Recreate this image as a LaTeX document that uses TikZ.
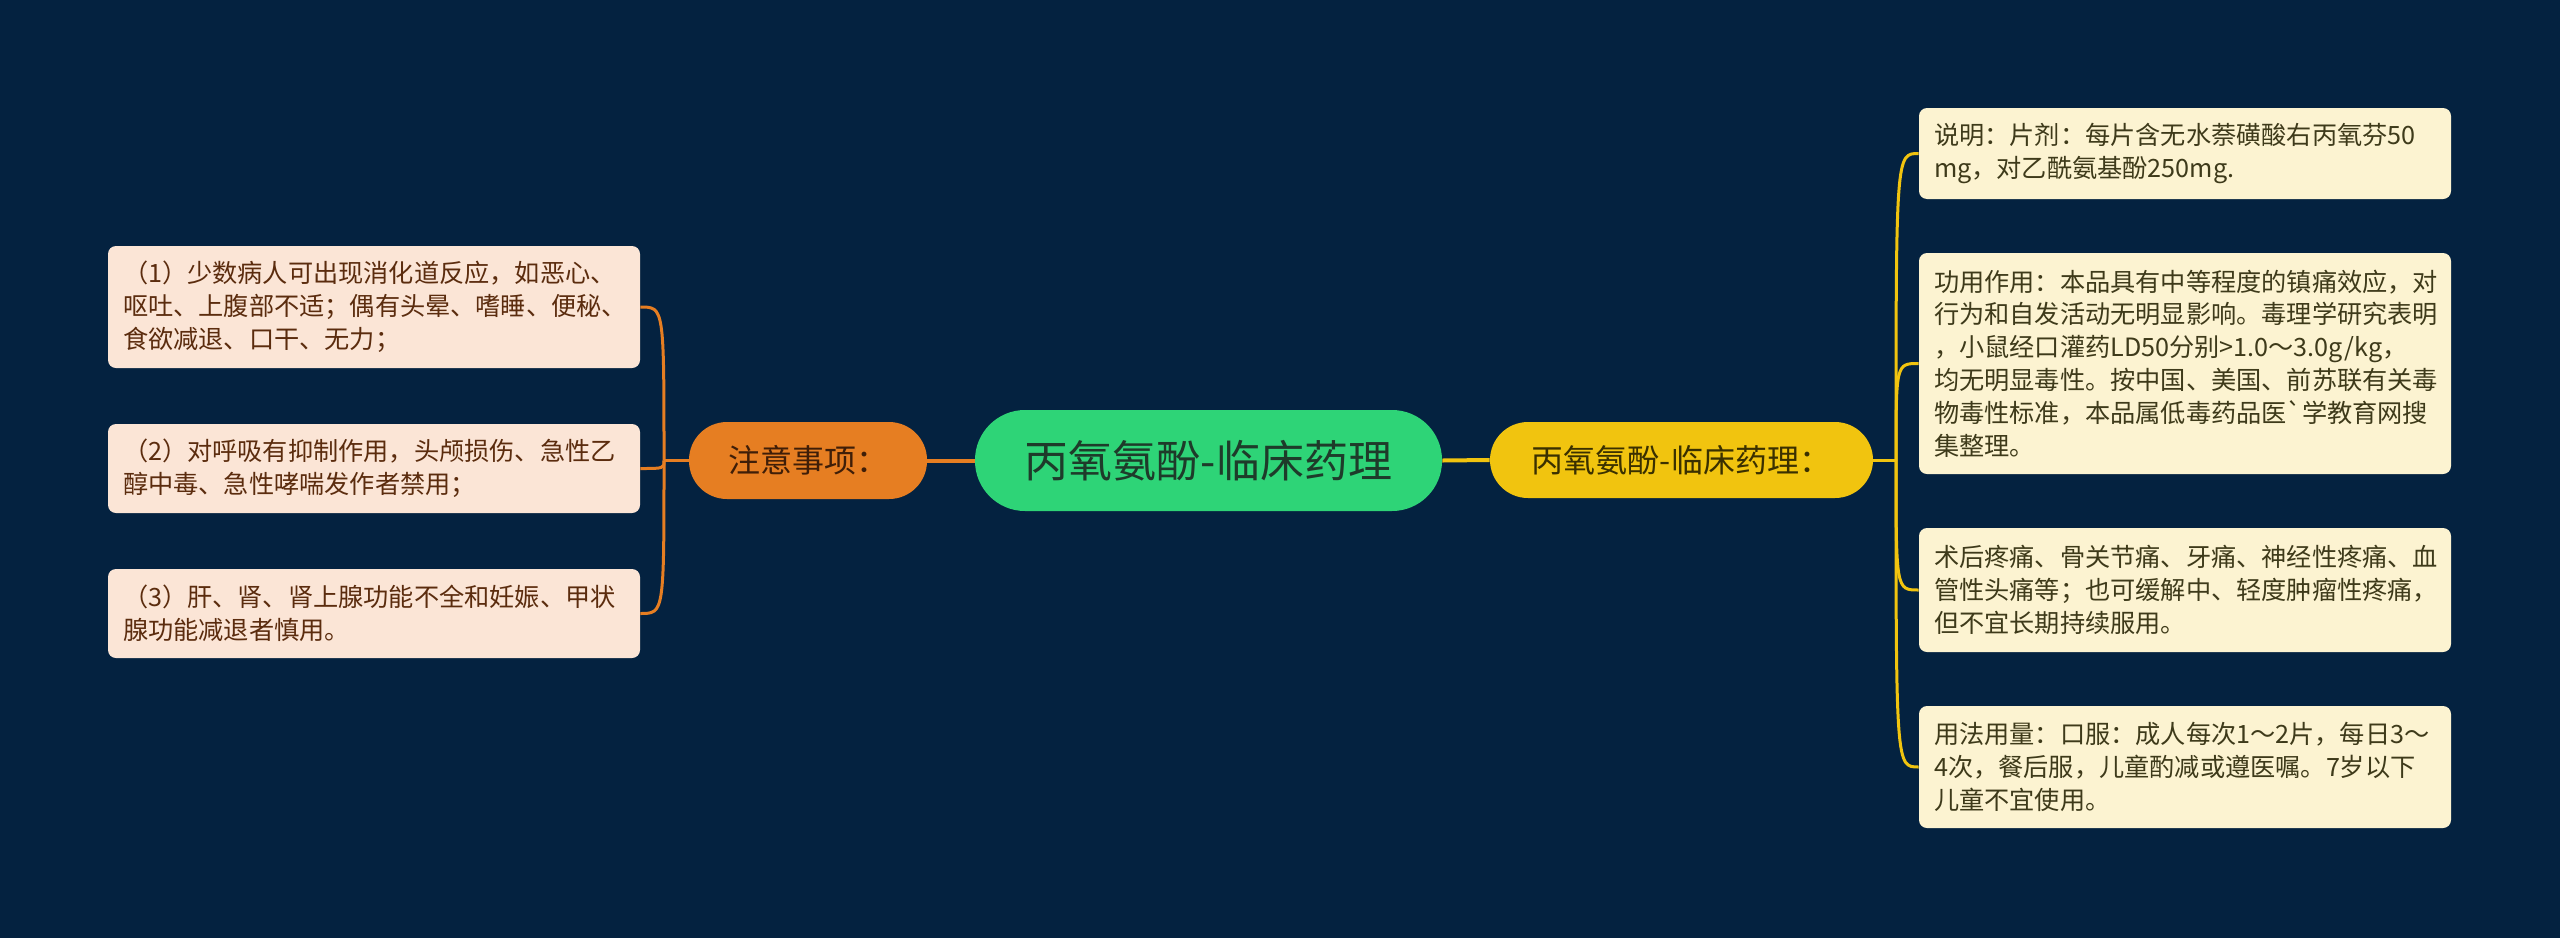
\documentclass[tikz,border=0pt]{standalone}
\usepackage{fontspec}
\usepackage{xcolor}
\usepackage{tikz}
\usetikzlibrary{positioning}
\newfontfamily\cjk{Noto Sans CJK SC}
\definecolor{bgnavy}{HTML}{042240}
\definecolor{rootgreen}{HTML}{2ED477}
\definecolor{roottext}{HTML}{1E3B2A}
\definecolor{careorange}{HTML}{E67E22}
\definecolor{caretext}{HTML}{3F1E08}
\definecolor{infoyellow}{HTML}{F1C40F}
\definecolor{infotext}{HTML}{3A3000}
\definecolor{leafpeach}{HTML}{FBE5D6}
\definecolor{peachtext}{HTML}{5B2C0E}
\definecolor{leafcream}{HTML}{FCF3D1}
\definecolor{creamtext}{HTML}{3E3A1A}

\begin{document}
\begin{tikzpicture}[x=0.5pt, y=-0.5pt,
	rootnode/.style={fill=rootgreen, text=roottext, rounded corners=25pt, minimum width=233.5pt, minimum height=50.5pt, font=\cjk\fontsize{22}{26}\selectfont},
	carenode/.style={fill=careorange, text=caretext, rounded corners=19pt, minimum width=119pt, minimum height=38.5pt, font=\cjk\fontsize{16}{19}\selectfont},
	infonode/.style={fill=infoyellow, text=infotext, rounded corners=19pt, minimum width=191.5pt, minimum height=38pt, font=\cjk\fontsize{16}{19}\selectfont},
	leaf/.style={rounded corners=4pt, text width=251pt, inner xsep=7.5pt, inner ysep=0pt, align=left, font=\cjk\fontsize{12.6}{16.4}\selectfont},
	leafL/.style={leaf, fill=leafpeach, text=peachtext},
	leafR/.style={leaf, fill=leafcream, text=creamtext},
	mainline/.style={line width=2pt},
	branch/.style={line width=1.5pt}]
	\fill[bgnavy] (0,0) rectangle (2560,938);
	\useasboundingbox (0,0) rectangle (2560,938);

	\node[rootnode] (root) at (1208.5,460.5) {丙氧氨酚-临床药理};
	\node[carenode] (care) at (808,460.5) {注意事项：};
	\node[infonode] (info) at (1681.5,460) {丙氧氨酚-临床药理：};

	\node[leafL, minimum height=61pt] (c1) at (374,307) {（1）少数病人可出现消化道反应，如恶心、\\呕吐、上腹部不适；偶有头晕、嗜睡、便秘、\\食欲减退、口干、无力；};
	\node[leafL, minimum height=44.5pt] (c2) at (374,468.5) {（2）对呼吸有抑制作用，头颅损伤、急性乙\\醇中毒、急性哮喘发作者禁用；};
	\node[leafL, minimum height=44.5pt] (c3) at (374,613.5) {（3）肝、肾、肾上腺功能不全和妊娠、甲状\\腺功能减退者慎用。};

	\node[leafR, minimum height=45.5pt] (r1) at (2185,153.5) {说明：片剂：每片含无水萘磺酸右丙氧芬50\\mg，对乙酰氨基酚250mg.};
	\node[leafR, minimum height=110.5pt] (r2) at (2185,363.5) {功用作用：本品具有中等程度的镇痛效应，对\\行为和自发活动无明显影响。毒理学研究表明\\，小鼠经口灌药LD50分别>1.0～3.0g/kg，\\均无明显毒性。按中国、美国、前苏联有关毒\\物毒性标准，本品属低毒药品医`学教育网搜\\集整理。};
	\node[leafR, minimum height=62pt] (r3) at (2185,590) {术后疼痛、骨关节痛、牙痛、神经性疼痛、血\\管性头痛等；也可缓解中、轻度肿瘤性疼痛，\\但不宜长期持续服用。};
	\node[leafR, minimum height=61pt] (r4) at (2185,767) {用法用量：口服：成人每次1～2片，每日3～\\4次，餐后服，儿童酌减或遵医嘱。7岁以下\\儿童不宜使用。};

	\draw[mainline, careorange] (root.west) -- (care.east);
	\draw[mainline, infoyellow] (root.east) -- (info.west);

	\coordinate (jL) at (664,460.5);
	\coordinate (jR) at (1896,460);
	\draw[branch, careorange] (care.west) -- (jL);
	\draw[branch, infoyellow] (info.east) -- (jR);
	\foreach \c in {c1,c2,c3}
		\draw[branch, careorange] (jL) .. controls (jL |- \c.east) .. (\c.east);
	\foreach \r in {r1,r2,r3,r4}
		\draw[branch, infoyellow] (jR) .. controls (jR |- \r.west) .. (\r.west);
\end{tikzpicture}
\end{document}
